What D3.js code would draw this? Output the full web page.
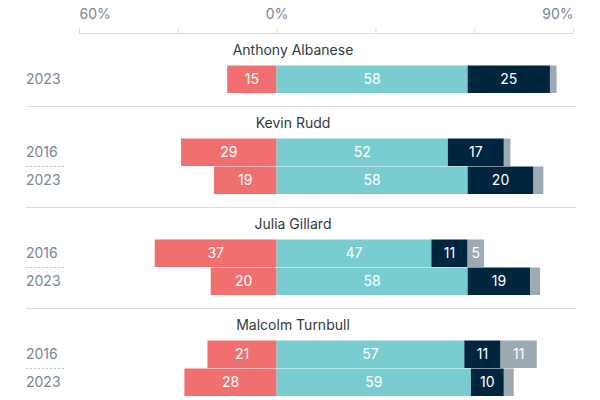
<!DOCTYPE html>
<html>
<head>
<meta charset="utf-8">
<script src="https://cdn.jsdelivr.net/npm/d3@7"></script>
<style>
  html, body { margin: 0; padding: 0; background: #fff; }
  svg { display: block; font-family: Inter, "Noto Sans", sans-serif; }
</style>
</head>
<body>
<div id="chart"></div>
<script>
// ---- data ----
const leaders = ["Anthony Albanese", "Kevin Rudd", "Julia Gillard", "Malcolm Turnbull"];
const years = [["2023"], ["2016", "2023"], ["2016", "2023"], ["2016", "2023"]];
const negative = [[15], [29, 19], [37, 20], [21, 28]];
const positive = [[58], [52, 58], [47, 58], [57, 59]];
const strong = [[25], [17, 20], [11, 19], [11, 10]];
const unsure = [[2], [2, 3], [5, 3], [11, 3]];
const tickValues = [-60, -30, 0, 30, 60, 90];
const tickLabels = ["60%", "", "0%", "", "", "90%"];

// ---- styles ----
const colors = { negative: "#f07070", positive: "#79cdd1", strong: "#00263f", unsure: "#9eaab2" };
const W = 600, H = 400;
const rowStep = 28, barH = 27.5;
const axisY = 33.5;

const x = d3.scaleLinear().domain([-60, 90]).range([79, 573]);

const svg = d3.select("#chart").append("svg").attr("width", W).attr("height", H);

// axis
const axis = d3.axisTop(x).tickValues(tickValues).tickSize(6).tickFormat((d, i) => tickLabels[i]);
const gAxis = svg.append("g").attr("transform", `translate(0,${axisY})`).call(axis);
gAxis.select(".domain").attr("stroke", "#d6dee4").attr("d", `M${x(-60)},0H${x(90)}`);
gAxis.selectAll(".tick line").attr("stroke", "#d6dee4");
gAxis.selectAll(".tick text")
  .attr("fill", "#7c8695").attr("font-size", 14).attr("dy", "-6")
  .attr("font-family", "Inter, sans-serif")
  .attr("text-anchor", (d) => d === -60 ? "start" : d === 90 ? "end" : "middle");

// groups
let sepY = axisY;
leaders.forEach((name, gi) => {
  const nameY = sepY + 16.5;
  svg.append("text").attr("x", 293).attr("y", nameY).attr("dy", "0.35em")
    .attr("text-anchor", "middle").attr("font-size", 14).attr("fill", "#333a40")
    .text(name);
  const top = sepY + 32;
  years[gi].forEach((yr, ri) => {
    const y0 = top + ri * rowStep;
    const segs = [
      { key: "negative", start: -negative[gi][ri], end: 0, v: negative[gi][ri] },
      { key: "positive", start: 0, end: positive[gi][ri], v: positive[gi][ri] },
      { key: "strong", start: positive[gi][ri], end: positive[gi][ri] + strong[gi][ri], v: strong[gi][ri] },
      { key: "unsure", start: positive[gi][ri] + strong[gi][ri], end: positive[gi][ri] + strong[gi][ri] + unsure[gi][ri], v: unsure[gi][ri] }
    ];
    const g = svg.append("g");
    g.selectAll("rect").data(segs).join("rect")
      .attr("x", d => x(d.start)).attr("width", d => x(d.end) - x(d.start))
      .attr("y", y0).attr("height", barH)
      .attr("fill", d => colors[d.key]);
    g.selectAll("text").data(segs.filter(d => d.v >= 5)).join("text")
      .attr("x", d => (x(d.start) + x(d.end)) / 2).attr("y", y0 + barH / 2).attr("dy", "0.36em")
      .attr("text-anchor", "middle").attr("font-size", 14).attr("fill", "#fff")
      .text(d => d.v);
    svg.append("text").attr("x", 26).attr("y", y0 + barH / 2).attr("dy", "0.36em")
      .attr("font-size", 14).attr("fill", "#7c8695").text(yr);
    if (ri > 0) {
      svg.append("line").attr("x1", 26).attr("x2", 65).attr("y1", y0).attr("y2", y0)
        .attr("stroke", "#b9c3cf").attr("stroke-width", 1).attr("stroke-dasharray", "2,2");
    }
  });
  const bottom = top + (years[gi].length - 1) * rowStep + barH;
  sepY = bottom + 13.5;
  if (gi < leaders.length - 1) {
    svg.append("line").attr("x1", 26).attr("x2", 576).attr("y1", sepY).attr("y2", sepY)
      .attr("stroke", "#d6dee4").attr("stroke-width", 1);
  }
});
</script>
</body>
</html>
